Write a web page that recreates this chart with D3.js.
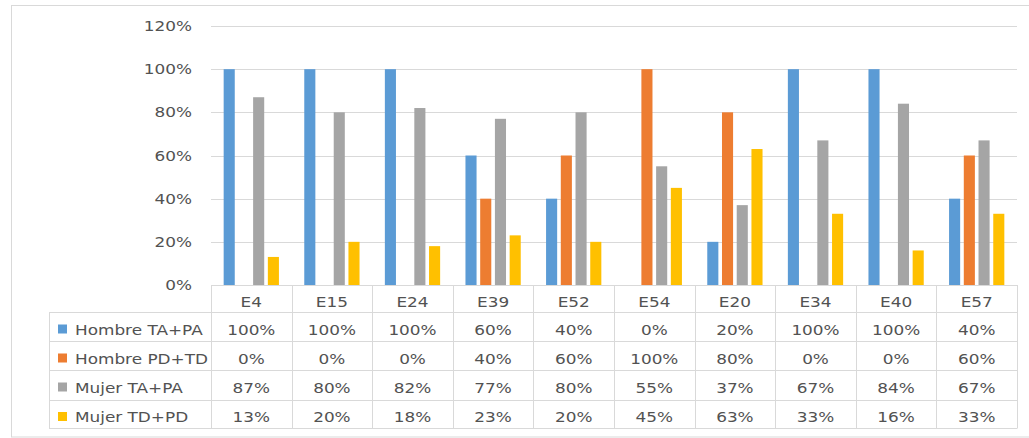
<!DOCTYPE html>
<html><head><meta charset="utf-8">
<script src="https://cdn.jsdelivr.net/npm/d3@7"></script>
<style>
html,body{margin:0;padding:0;background:#fff;}
text{font-family:"DejaVu Sans",Verdana,sans-serif;font-size:13.5px;fill:#525252;}
</style></head>
<body><svg id="chart" width="1029" height="438"></svg>
<script>
const categories = ["E4","E15","E24","E39","E52","E54","E20","E34","E40","E57"];
const seriesNames = ["Hombre TA+PA","Hombre PD+TD","Mujer TA+PA","Mujer TD+PD"];
const hombreTAPA = [1.00,1.00,1.00,0.60,0.40,0.00,0.20,1.00,1.00,0.40];
const hombrePDTD = [0.00,0.00,0.00,0.40,0.60,1.00,0.80,0.00,0.00,0.60];
const mujerTAPA  = [0.87,0.80,0.82,0.77,0.80,0.55,0.37,0.67,0.84,0.67];
const mujerTDPD  = [0.13,0.20,0.18,0.23,0.20,0.45,0.63,0.33,0.16,0.33];
const yTicks = [0,0.2,0.4,0.6,0.8,1.0,1.2];
const colors = ["#5B9BD5","#ED7D31","#A5A5A5","#FFC000"];

const seriesValues = [hombreTAPA, hombrePDTD, mujerTAPA, mujerTDPD];
const SX = 1.25;
const svg = d3.select("#chart");
const fmt = d3.format(".0%");

// outer frame
svg.append("rect").attr("x",11.5).attr("y",5.5).attr("width",1030).attr("height",431.5)
  .attr("fill","none").attr("stroke","#d9d9d9");

const pLeft = 211, pRight = 1017, pTop = 26, pBottom = 285;
const x = d3.scaleBand().domain(categories).range([pLeft,pRight]);
const y = d3.scaleLinear().domain([0,1.2]).range([pBottom,pTop]);
const xs = d3.scaleBand().domain(seriesNames).range([0,x.bandwidth()]).paddingInner(0.247).paddingOuter(0.86);

function stext(g, px, py, str, anchor){
  return g.append("text").attr("transform",`translate(${px},${py}) scale(${SX},1)`)
    .attr("text-anchor",anchor).text(str);
}

// gridlines
svg.append("g").selectAll("line").data(yTicks.filter(d=>d>0)).join("line")
  .attr("x1",pLeft).attr("x2",pRight).attr("y1",d=>Math.round(y(d))+0.5).attr("y2",d=>Math.round(y(d))+0.5)
  .attr("stroke","#d9d9d9");

// y labels
const yl = svg.append("g");
yTicks.forEach(t=>stext(yl,192,y(t)+5,fmt(t),"end"));

// bars
seriesNames.forEach((s,i)=>{
  svg.append("g").selectAll("rect").data(categories).join("rect")
    .attr("x",(c)=>x(c)+xs(s)).attr("width",xs.bandwidth())
    .attr("y",(c,j)=>y(seriesValues[i][j])).attr("height",(c,j)=>pBottom-y(seriesValues[i][j]))
    .attr("fill",colors[i]);
});

// table
const rowTops = [312,341,370,399.5,428];
const tableLeft = 49;
const tg = svg.append("g");
const lc = "#d9d9d9";
tg.append("line").attr("x1",pLeft).attr("x2",pRight).attr("y1",pBottom+0.5).attr("y2",pBottom+0.5).attr("stroke",lc);
rowTops.forEach(r=>tg.append("line").attr("x1",tableLeft).attr("x2",pRight).attr("y1",Math.round(r)+0.5).attr("y2",Math.round(r)+0.5).attr("stroke",lc));
tg.append("line").attr("x1",tableLeft+0.5).attr("x2",tableLeft+0.5).attr("y1",312).attr("y2",428.5).attr("stroke",lc);
const vx = categories.map(c=>x(c)).concat([pRight]);
vx.forEach(v=>tg.append("line").attr("x1",Math.round(v)+0.5).attr("x2",Math.round(v)+0.5).attr("y1",pBottom).attr("y2",428.5).attr("stroke",lc));

// header labels
categories.forEach(c=>stext(tg,x(c)+x.bandwidth()/2,306.5,c,"middle"));
// rows
seriesNames.forEach((s,i)=>{
  const rt = rowTops[i];
  tg.append("rect").attr("x",58).attr("y",rt+12.5).attr("width",9).attr("height",9).attr("fill",colors[i]);
  stext(tg,75,rt+22.5,s,"start");
  categories.forEach((c,j)=>stext(tg,x(c)+x.bandwidth()/2,rt+22.5,fmt(seriesValues[i][j]),"middle"));
});
</script></body></html>
